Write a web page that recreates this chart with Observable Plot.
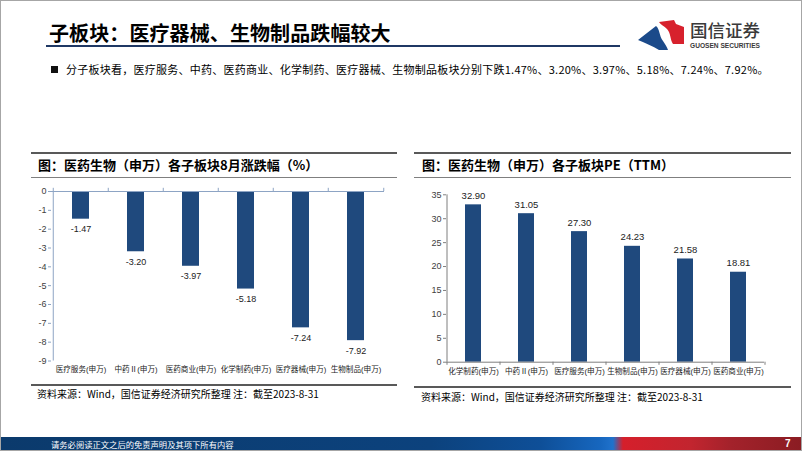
<!DOCTYPE html>
<html><head><meta charset="utf-8">
<script src="https://cdn.jsdelivr.net/npm/d3@7"></script>
<script src="https://cdn.jsdelivr.net/npm/@observablehq/plot@0.6"></script>
<style>
html,body{margin:0;padding:0;background:#fff;}
#slide{position:relative;width:802px;height:451px;border:1px solid #a6a6a6;box-sizing:border-box;overflow:hidden;background:#fff;font-family:"Noto Sans CJK SC",sans-serif;color:#000;}
.abs{position:absolute;white-space:nowrap;}
#title{left:48px;top:19px;font-size:20px;font-weight:bold;line-height:26px;letter-spacing:0.1px;}
#underline{left:45px;top:44px;width:574px;height:2px;background:#1f3864;}
#bullet{left:50px;top:60px;font-size:11px;line-height:16px;letter-spacing:0.25px;}
#bullet .sq{display:inline-block;width:7px;height:7px;background:#111;margin-right:8px;vertical-align:1px;}
.hline{position:absolute;height:2px;background:#595959;}
.thin{position:absolute;height:1px;background:#7f7f7f;}
.ctitle{font-size:13px;font-weight:bold;line-height:18px;}
.src{font-size:10px;line-height:14px;color:#000;}
#footer{left:0;top:436px;width:802px;height:14px;background:linear-gradient(90deg,#0b3a6c 0px,#0c427d 430px,#0e4f98 540px,#1767bf 600px,#2072cc 612px,#d51f2b 622px,#c2252f 690px,#a3222b 730px,#8a1c22 802px);}
#footer .ft{position:absolute;left:50px;top:0;font-size:8.3px;line-height:14px;color:#fff;}
#footer .pg{position:absolute;left:784px;top:0;font-size:10px;line-height:14px;color:#fff;font-weight:bold;font-family:"Liberation Sans",sans-serif;}
#logoText{left:689px;top:18px;font-size:17.5px;line-height:22px;color:#3a3a3a;font-weight:500;}
#logoEn{left:689px;top:40px;font-size:6.6px;line-height:9px;color:#3a3a3a;font-weight:bold;font-family:"Liberation Sans",sans-serif;letter-spacing:0px;}
</style>
</head><body>
<div id="slide">
  <div class="abs" id="title">子板块：医疗器械、生物制品跌幅较大</div>
  <div class="abs" id="underline"></div>
  <svg class="abs" style="left:636px;top:17px" width="50" height="33" viewBox="0 0 50 33">
    <path d="M1,22 L19,8 C23,11 22,18 26,23 C28,26 30,29 31,32 L22,32 C16,28 8,25 1,22 Z" fill="#1b4a8a"/>
    <path d="M22,4 L37,2 L39,6 L47,9 L47,26 L36,26 C33,22 34,15 30,11 C27,8 24,7 22,4 Z" fill="#d7212d"/>
  </svg>
  <div class="abs" id="logoText">国信证券</div>
  <div class="abs" id="logoEn">GUOSEN SECURITIES</div>
  <div class="abs" id="bullet"><span class="sq"></span>分子板块看，医疗服务、中药、医药商业、化学制药、医疗器械、生物制品板块分别下跌1.47%、3.20%、3.97%、5.18%、7.24%、7.92%。</div>

  <div class="hline" style="left:30px;top:151px;width:366px;"></div>
  <div class="abs ctitle" style="left:37px;top:155px;">图：医药生物（申万）各子板块8月涨跌幅（%）</div>
  <div class="thin" style="left:30px;top:176px;width:366px;"></div>
  <div class="abs" id="leftChart" style="left:0px;top:180px;"></div>
  <div class="hline" style="left:30px;top:383px;width:366px;"></div>
  <div class="abs src" style="left:36px;top:386px;">资料来源：Wind，国信证券经济研究所整理 注：截至2023-8-31</div>

  <div class="hline" style="left:413px;top:151px;width:377px;"></div>
  <div class="abs ctitle" style="left:421px;top:155px;">图：医药生物（申万）各子板块PE（TTM）</div>
  <div class="thin" style="left:413px;top:176px;width:377px;"></div>
  <div class="abs" id="rightChart" style="left:410px;top:180px;"></div>
  <div class="hline" style="left:413px;top:385px;width:377px;"></div>
  <div class="abs src" style="left:420px;top:389px;">资料来源：Wind，国信证券经济研究所整理 注：截至2023-8-31</div>

  <div class="abs" id="footer"><span class="ft">请务必阅读正文之后的免责声明及其项下所有内容</span><span class="pg">7</span></div>
</div>
<script>
// Left chart: August change by sub-sector (%)
const changeCategories = ["医疗服务(申万)", "中药Ⅱ(申万)", "医药商业(申万)", "化学制药(申万)", "医疗器械(申万)", "生物制品(申万)"];
const changeValues = [-1.47, -3.20, -3.97, -5.18, -7.24, -7.92];
const changeTicks = [0, -1, -2, -3, -4, -5, -6, -7, -8, -9];

// Right chart: PE (TTM) by sub-sector
const peCategories = ["化学制药(申万)", "中药Ⅱ(申万)", "医疗服务(申万)", "生物制品(申万)", "医疗器械(申万)", "医药商业(申万)"];
const peValues = [32.90, 31.05, 27.30, 24.23, 21.58, 18.81];
const peTicks = [0, 5, 10, 15, 20, 25, 30, 35];

const barColor = "#1f497d";
const font = "'Liberation Sans','Noto Sans CJK SC',sans-serif";

// ---- Left
{
  const W = 400, H = 200, mL = 50, mR = 17, mT = 10, mB = 20.5;
  const step = (W - mL - mR) / changeCategories.length;
  const data = changeCategories.map((c, i) => ({cat: c, value: changeValues[i]}));
  const axisColor = "#8da4c4";
  const last = changeCategories[changeCategories.length - 1];
  const chart = Plot.plot({
    width: W, height: H, marginLeft: mL, marginRight: mR, marginTop: mT, marginBottom: mB,
    style: {fontFamily: font, fontSize: "9px", color: "#404040", background: "transparent", overflow: "visible"},
    x: {domain: changeCategories, paddingInner: 0.7, paddingOuter: 0.35, label: null},
    y: {domain: [-9, 0], label: null},
    marks: [
      Plot.barY(data, {x: "cat", y: "value", fill: barColor}),
      Plot.ruleY([0], {stroke: axisColor}),
      Plot.ruleX([changeCategories[0]], {dx: -step / 2, y1: -9, y2: 0, stroke: axisColor}),
      Plot.ruleX(changeCategories, {dx: -step / 2, y1: 0, y2: 0.17, stroke: axisColor}),
      Plot.ruleX([last], {dx: step / 2, y1: 0, y2: 0.17, stroke: axisColor}),
      Plot.axisY({ticks: changeTicks, tickSize: 3, tickPadding: 2, fontSize: 9, stroke: axisColor, fill: "#404040", label: null, tickFormat: d => d === 0 ? "0" : "-" + Math.abs(d)}),
      Plot.axisX({anchor: "bottom", tickSize: 0, tickPadding: 6, fontSize: 7.6, fill: "#222", label: null}),
      Plot.text(data, {x: "cat", y: "value", text: d => d.value.toFixed(2), dy: 10, fontSize: 9, fill: "#222"})
    ]
  });
  document.getElementById("leftChart").append(chart);
}

// ---- Right
{
  const W = 380, H = 200, mL = 35, mR = 27, mT = 13.3, mB = 19.3;
  const step = (W - mL - mR) / peCategories.length;
  const data = peCategories.map((c, i) => ({cat: c, value: peValues[i]}));
  const axisColor = "#7f7f7f";
  const last = peCategories[peCategories.length - 1];
  const chart = Plot.plot({
    width: W, height: H, marginLeft: mL, marginRight: mR, marginTop: mT, marginBottom: mB,
    style: {fontFamily: font, fontSize: "9px", color: "#404040", background: "transparent", overflow: "visible"},
    x: {domain: peCategories, paddingInner: 0.7, paddingOuter: 0.35, label: null},
    y: {domain: [0, 35], label: null},
    marks: [
      Plot.barY(data, {x: "cat", y: "value", fill: barColor}),
      Plot.ruleY([0], {stroke: axisColor}),
      Plot.ruleX([peCategories[0]], {dx: -step / 2, y1: 0, y2: 35, stroke: axisColor}),
      Plot.ruleX(peCategories, {dx: -step / 2, y1: 0, y2: -0.65, stroke: axisColor}),
      Plot.ruleX([last], {dx: step / 2, y1: 0, y2: -0.65, stroke: axisColor}),
      Plot.axisY({ticks: peTicks, tickSize: 3, tickPadding: 2, fontSize: 9, stroke: axisColor, fill: "#404040", label: null}),
      Plot.axisX({anchor: "bottom", tickSize: 0, tickPadding: 6, fontSize: 7.6, fill: "#222", label: null}),
      Plot.text(data, {x: "cat", y: "value", text: d => d.value.toFixed(2), dy: -9, fontSize: 9.5, fill: "#222"})
    ]
  });
  document.getElementById("rightChart").append(chart);
}
</script>
</body></html>
